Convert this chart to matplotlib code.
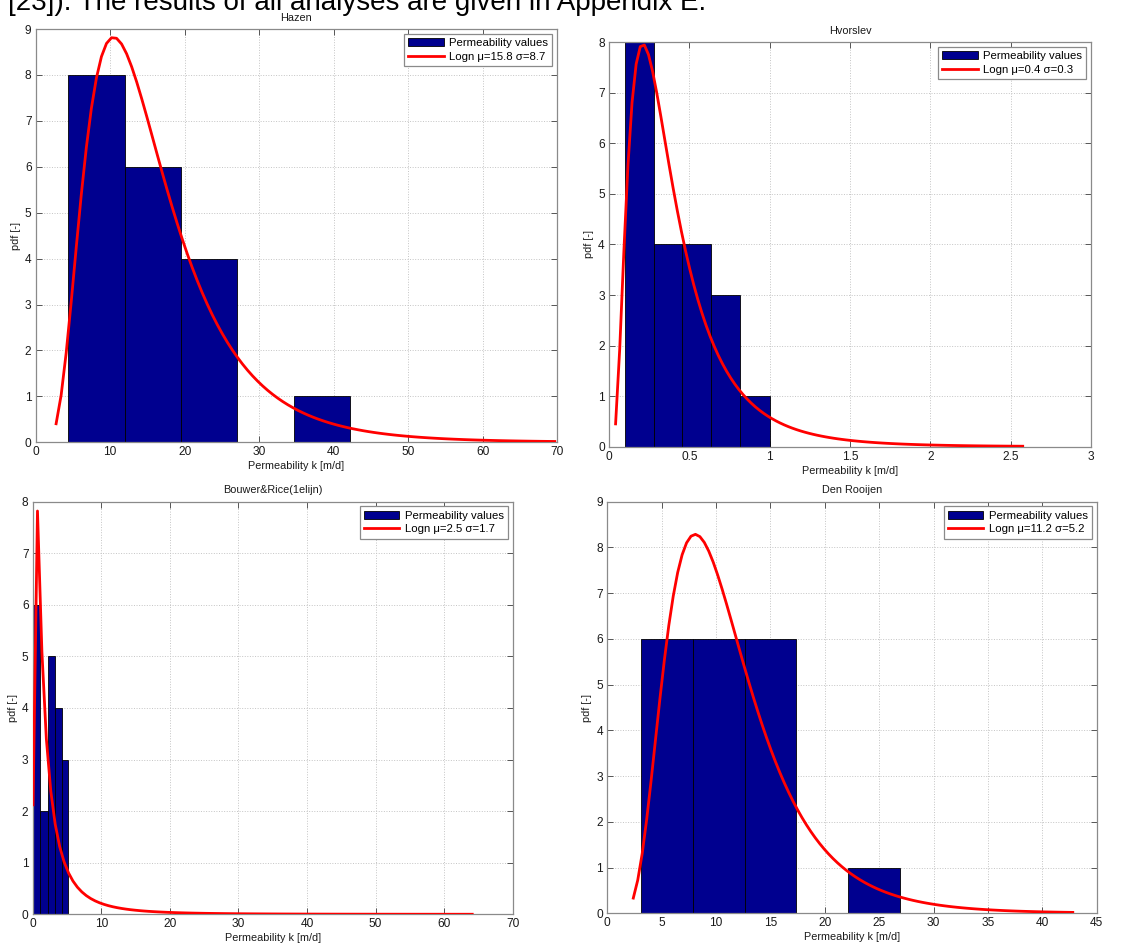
import numpy as np
import matplotlib
matplotlib.use("Agg")
import matplotlib.pyplot as plt
from matplotlib.ticker import MultipleLocator, FormatStrFormatter

plt.rcParams['font.family'] = ['Liberation Sans', 'DejaVu Sans']

W, H = 1136, 947
BAR_COLOR = '#00008F'

# --- Hazen -------------------------------------------------------------
hazen_edges = [4.35, 11.93, 19.51, 27.09, 34.66, 42.24]
hazen_counts = [8, 6, 4, 0, 1]
hazen_logn = (2.637, 0.539)          # ln-space mean and std of fitted lognormal
hazen_curve_span = (2.74, 69.7)
hazen_legend = 'Logn \u03bc=15.8 \u03c3=8.7'

# --- Hvorslev ----------------------------------------------------------
hvorslev_edges = [0.0975, 0.278, 0.456, 0.637, 0.817, 1.0]
hvorslev_counts = [8, 4, 4, 3, 1]
hvorslev_logn = (-1.095, 0.682)
hvorslev_curve_span = (0.041, 2.575)
hvorslev_legend = 'Logn \u03bc=0.4 \u03c3=0.3'

# --- Bouwer & Rice -----------------------------------------------------
bouwer_edges = [0.05, 1.11, 2.17, 3.19, 4.20, 5.22]
bouwer_counts = [6, 2, 5, 4, 3]
bouwer_logn = (0.46, 1.196)
bouwer_curve_span = (0.05, 64.1)
bouwer_legend = 'Logn \u03bc=2.5 \u03c3=1.7'

# --- Den Rooijen -------------------------------------------------------
rooijen_edges = [3.13, 7.91, 12.64, 17.39, 22.12, 26.90]
rooijen_counts = [6, 6, 6, 0, 1]
rooijen_logn = (2.319, 0.48)
rooijen_curve_span = (2.39, 42.8)
rooijen_legend = 'Logn \u03bc=11.2 \u03c3=5.2'


def lognormal_pdf(x, mu, sigma):
    return np.exp(-(np.log(x) - mu) ** 2 / (2 * sigma ** 2)) / (x * sigma * np.sqrt(2 * np.pi))


def px_rect(left, top, right, bottom):
    return [left / W, 1 - bottom / H, (right - left) / W, (bottom - top) / H]


def panel(rect, title, edges, counts, logn, span, legend_text,
          xlim, xstep, ylim):
    ax = fig.add_axes(px_rect(*rect))
    edges = np.asarray(edges)
    counts = np.asarray(counts)
    widths = np.diff(edges)
    bars = ax.bar(edges[:-1], counts, width=widths, align='edge',
                  color=BAR_COLOR, edgecolor='black', linewidth=0.6,
                  label='Permeability values', zorder=2)
    # fitted lognormal, scaled to histogram area (count x bin width)
    area = counts.sum() * widths.mean()
    xs = np.linspace(span[0], span[1], 100)
    line, = ax.plot(xs, area * lognormal_pdf(xs, *logn), color='red',
                    linewidth=2, label=legend_text, zorder=3)

    ax.set_xlim(*xlim)
    ax.set_ylim(*ylim)
    ax.xaxis.set_major_locator(MultipleLocator(xstep))
    ax.yaxis.set_major_locator(MultipleLocator(1))
    ax.xaxis.set_major_formatter(FormatStrFormatter('%g'))
    ax.yaxis.set_major_formatter(FormatStrFormatter('%g'))
    ax.grid(True, linestyle=':', color='#c4c4c4', linewidth=0.7, zorder=0)
    ax.set_axisbelow(True)
    for sp in ax.spines.values():
        sp.set_color('#8a8a8a')
        sp.set_linewidth(0.9)
    ax.tick_params(direction='in', top=True, right=True, length=4,
                   width=0.7, color='#555555', labelsize=8.6,
                   labelcolor='#1a1a1a', pad=3)
    ax.set_title(title, fontsize=7.8, pad=6, color='#1a1a1a')
    ax.set_xlabel('Permeability k [m/d]', fontsize=7.8, labelpad=2,
                  color='#1a1a1a')
    ax.set_ylabel('pdf [-]', fontsize=7.8, labelpad=3, color='#1a1a1a')
    leg = ax.legend(handles=[bars, line], loc='upper right', fontsize=8.2,
                    fancybox=False, framealpha=1, edgecolor='#8a8a8a',
                    borderpad=0.4, labelspacing=0.3, handlelength=3.1,
                    handletextpad=0.45, borderaxespad=0.4)
    leg.get_frame().set_linewidth(0.9)
    return ax


fig = plt.figure(figsize=(W / 100, H / 100), dpi=100)

fig.text(8 / W, 1 - 10.5 / H,
         '[23]). The results of all analyses are given in Appendix E.',
         fontsize=20, va='baseline', ha='left', color='black')

panel((35.7, 29, 557, 442.3), 'Hazen', hazen_edges, hazen_counts,
      hazen_logn, hazen_curve_span, hazen_legend, (0, 70), 10, (0, 9))
panel((609, 42.3, 1091, 446.7), 'Hvorslev', hvorslev_edges, hvorslev_counts,
      hvorslev_logn, hvorslev_curve_span, hvorslev_legend, (0, 3), 0.5, (0, 8))
panel((32.7, 501.7, 512.7, 914.3), 'Bouwer&Rice(1elijn)', bouwer_edges,
      bouwer_counts, bouwer_logn, bouwer_curve_span, bouwer_legend,
      (0, 70), 10, (0, 8))
panel((607.3, 501.7, 1096.7, 913.3), 'Den Rooijen', rooijen_edges,
      rooijen_counts, rooijen_logn, rooijen_curve_span, rooijen_legend,
      (0, 45), 5, (0, 9))

fig.savefig('out.png', dpi=100)
